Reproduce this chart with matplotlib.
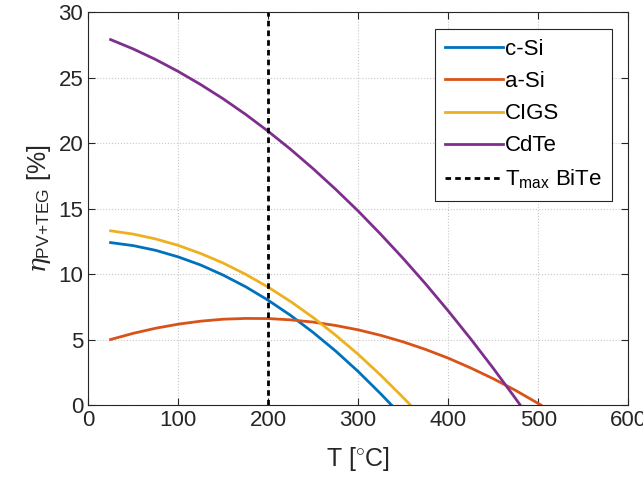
import matplotlib.pyplot as plt

plt.rcParams['font.family'] = ['Liberation Sans', 'DejaVu Sans']
plt.rcParams['mathtext.fontset'] = 'custom'
plt.rcParams['mathtext.rm'] = 'Liberation Sans'
plt.rcParams['mathtext.it'] = 'DejaVu Serif:italic'

# temperatures (C) and efficiencies (%)
t_csi = [25, 50, 75, 100, 125, 150, 175, 200, 225, 250, 275, 300, 325, 337]
eta_csi = [12.4, 12.17, 11.81, 11.31, 10.69, 9.92, 9.03, 8.0, 6.84, 5.54, 4.12, 2.56, 0.86, 0.0]

t_asi = [25, 50, 75, 100, 125, 150, 175, 200, 225, 250, 275, 300, 325, 350, 375, 400, 425, 450, 475, 503]
eta_asi = [5.0, 5.47, 5.86, 6.17, 6.40, 6.55, 6.61, 6.60, 6.50, 6.33, 6.07, 5.74, 5.32, 4.82, 4.24, 3.58, 2.83, 2.01, 1.11, 0.0]

t_cigs = [25, 50, 75, 100, 125, 150, 175, 200, 225, 250, 275, 300, 325, 350, 358]
eta_cigs = [13.3, 13.05, 12.68, 12.19, 11.57, 10.84, 9.98, 9.0, 7.90, 6.68, 5.33, 3.87, 2.28, 0.57, 0.0]

t_cdte = [25, 50, 75, 100, 125, 150, 175, 200, 225, 250, 275, 300, 325, 350, 375, 400, 425, 450, 475, 480]
eta_cdte = [27.9, 27.19, 26.38, 25.47, 24.47, 23.38, 22.19, 20.9, 19.52, 18.04, 16.47, 14.81, 13.04, 11.19, 9.24, 7.19, 5.05, 2.81, 0.48, 0.0]

t_max_bite = 200

fig = plt.figure(figsize=(6.43, 4.93), dpi=100)
ax = fig.add_axes([0.137, 0.1785, 0.840, 0.797])

ax.plot(t_csi, eta_csi, color='#0072BD', lw=2, label='c-Si')
ax.plot(t_asi, eta_asi, color='#D95319', lw=2, label='a-Si')
ax.plot(t_cigs, eta_cigs, color='#EDB120', lw=2, label='CIGS')
ax.plot(t_cdte, eta_cdte, color='#7E2F8E', lw=2, label='CdTe')
ax.plot([t_max_bite, t_max_bite], [0, 30], color='black', lw=2, ls=(0, (2, 1.5)),
        label=r'T$_{\rm max}$ BiTe')

ax.set_xlim(0, 600)
ax.set_ylim(0, 30)
ax.set_xticks(range(0, 601, 100))
ax.set_yticks(range(0, 31, 5))
ax.grid(True, ls=':', color='#c8c8c8', lw=0.8)
ax.tick_params(direction='in', labelsize=16, length=5, top=True, right=True, colors='#262626')
for s in ax.spines.values():
    s.set_color('#262626')
    s.set_linewidth(0.8)

ax.set_xlabel(r'T [$^{\circ}$C]', fontsize=18, color='#262626', labelpad=10)
ax.set_ylabel(r'$\eta_{\rm PV{+}TEG}$ [%]', fontsize=18, color='#262626')

leg = ax.legend(loc='upper right', bbox_to_anchor=(0.99, 0.985), fontsize=16,
                fancybox=False, edgecolor='#262626', framealpha=1,
                handlelength=2.6, handletextpad=0.1, labelspacing=0.5, borderpad=0.45)
leg.get_frame().set_linewidth(0.8)

fig.savefig('out.png', dpi=100)
